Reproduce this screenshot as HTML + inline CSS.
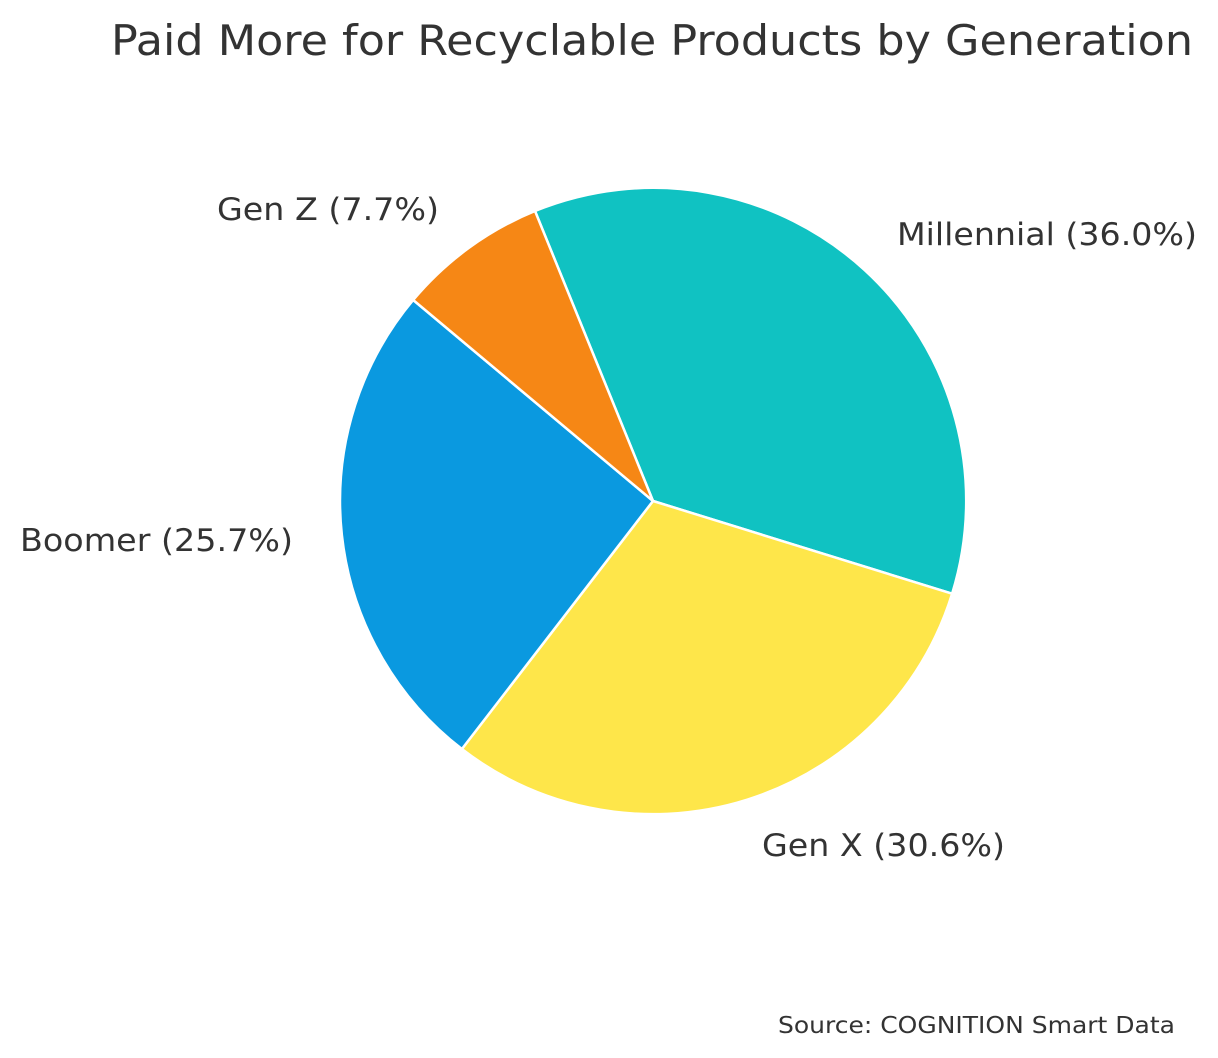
<!DOCTYPE html>
<html><head><meta charset="utf-8"><style>
html,body{margin:0;padding:0;background:#fff;}
svg{display:block;}
text{font-family:"DejaVu Sans","Liberation Sans",sans-serif;fill:#333;}
</style></head><body>
<svg width="1218" height="1058" viewBox="0 0 1218 1058" xmlns="http://www.w3.org/2000/svg">
<text x="111" y="55" font-size="42" textLength="1082" lengthAdjust="spacingAndGlyphs">Paid More for Recyclable Products by Generation</text>
<g stroke="#fff" stroke-width="2.5" stroke-linejoin="round">
<path d="M653,501 L535,211 A313,313 0 0 1 952.1,593.7 Z" fill="#10c2c2"/>
<path d="M653,501 L952.1,593.7 A313,313 0 0 1 461.9,749 Z" fill="#fee64a"/>
<path d="M653,501 L461.9,749 A313,313 0 0 1 413.2,300 Z" fill="#0a99e0"/>
<path d="M653,501 L413.2,300 A313,313 0 0 1 535,211 Z" fill="#f68715"/>
</g>
<text x="217" y="220" font-size="31" textLength="222" lengthAdjust="spacingAndGlyphs">Gen Z (7.7%)</text>
<text x="897" y="245" font-size="31" textLength="300" lengthAdjust="spacingAndGlyphs">Millennial (36.0%)</text>
<text x="20" y="551" font-size="31" textLength="273" lengthAdjust="spacingAndGlyphs">Boomer (25.7%)</text>
<text x="762" y="856" font-size="31" textLength="243" lengthAdjust="spacingAndGlyphs">Gen X (30.6%)</text>
<text x="778" y="1033" font-size="23" textLength="397" lengthAdjust="spacingAndGlyphs">Source: COGNITION Smart Data</text>
</svg>
</body></html>
